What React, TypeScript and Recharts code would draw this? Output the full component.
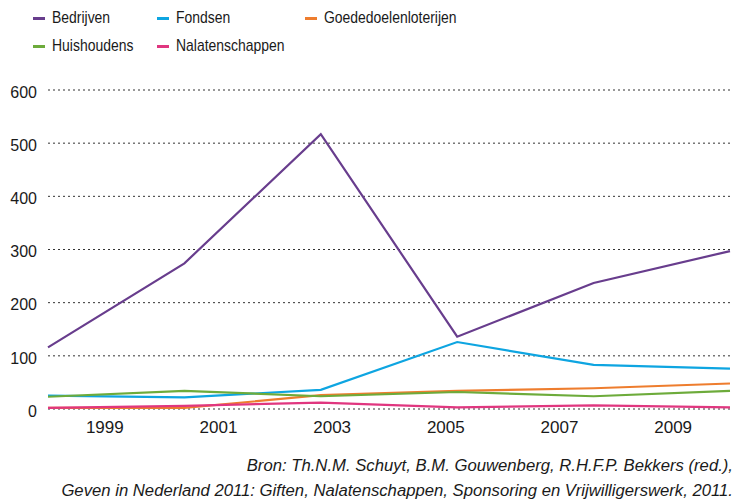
import { LineChart, Line, CartesianGrid, XAxis, YAxis, Legend } from "recharts";

const years = ["1999", "2001", "2003", "2005", "2007", "2009"];
const bedrijven = [116, 274, 517, 136, 237, 297];
const fondsen = [25, 22, 36, 126, 83, 76];
const goededoelenloterijen = [2, 2, 26, 34, 39, 48];
const huishoudens = [23, 34, 24, 32, 24, 34];
const nalatenschappen = [2, 6, 12, 3, 7, 3];
const yTicks = [0, 100, 200, 300, 400, 500, 600];

const series = [
  { key: "bedrijven", name: "Bedrijven", color: "#683d8d" },
  { key: "fondsen", name: "Fondsen", color: "#0ea5e1" },
  { key: "goededoelenloterijen", name: "Goededoelenloterijen", color: "#ee7d2e" },
  { key: "huishoudens", name: "Huishoudens", color: "#6dab3b" },
  { key: "nalatenschappen", name: "Nalatenschappen", color: "#e0367f" }
];

const data = years.map((year, i) => ({
  year,
  bedrijven: bedrijven[i],
  fondsen: fondsen[i],
  goededoelenloterijen: goededoelenloterijen[i],
  huishoudens: huishoudens[i],
  nalatenschappen: nalatenschappen[i]
}));

const sans = '"Liberation Sans", Arial, sans-serif';

function LegendBox() {
  const colLeft = [33, 157, 305];
  return (
    <div style={{ position: "relative", width: 735, height: 60, fontFamily: sans, fontSize: 17, color: "#1a1a1a" }}>
      {series.map((s, i) => (
        <div
          key={s.key}
          style={{
            position: "absolute",
            left: colLeft[i % 3],
            top: i < 3 ? 8 : 36,
            display: "flex",
            alignItems: "center",
            whiteSpace: "nowrap"
          }}
        >
          <span style={{ display: "inline-block", width: 12, height: 3, background: s.color, marginRight: 7 }} />
          <span style={{ display: "inline-block", transform: "scaleX(0.82)", transformOrigin: "left center" }}>
            {s.name}
          </span>
        </div>
      ))}
    </div>
  );
}

export default function App() {
  return (
    <div style={{ position: "absolute", left: 0, top: 0, width: 735, height: 501, background: "#fff" }}>
      <LineChart
        width={735}
        height={445}
        data={data}
        margin={{ top: 90, right: 5, bottom: 6, left: 8 }}
      >
        <CartesianGrid vertical={false} stroke="#333" strokeDasharray="2 3" />
        <XAxis xAxisId="pts" dataKey="year" hide />
        <XAxis
          xAxisId="lbl"
          dataKey="year"
          scale="band"
          axisLine={false}
          tickLine={false}
          tickMargin={6}
          tick={{ fontSize: 17, fill: "#1a1a1a", fontFamily: sans }}
        />
        <YAxis
          domain={[0, 600]}
          ticks={yTicks}
          width={40}
          axisLine={false}
          tickLine={false}
          tickMargin={5}
          tick={{ fontSize: 16, fill: "#1a1a1a", fontFamily: sans, dy: 2 }}
        />
        <Legend
          layout="horizontal"
          verticalAlign="middle"
          wrapperStyle={{ top: 0, left: 0, width: 735 }}
          content={() => <LegendBox />}
        />
        {series.map((s) => (
          <Line
            key={s.key}
            xAxisId="pts"
            type="linear"
            dataKey={s.key}
            name={s.name}
            stroke={s.color}
            strokeWidth={2.2}
            dot={false}
            isAnimationActive={false}
          />
        ))}
      </LineChart>
      <div
        style={{
          position: "absolute",
          top: 453,
          right: 2,
          textAlign: "right",
          fontFamily: sans,
          fontStyle: "italic",
          fontSize: 16.7,
          lineHeight: "25px",
          color: "#1a1a1a",
          whiteSpace: "nowrap"
        }}
      >
        Bron: Th.N.M. Schuyt, B.M. Gouwenberg, R.H.F.P. Bekkers (red.),
        <br />
        Geven in Nederland 2011: Giften, Nalatenschappen, Sponsoring en Vrijwilligerswerk, 2011.
      </div>
    </div>
  );
}
